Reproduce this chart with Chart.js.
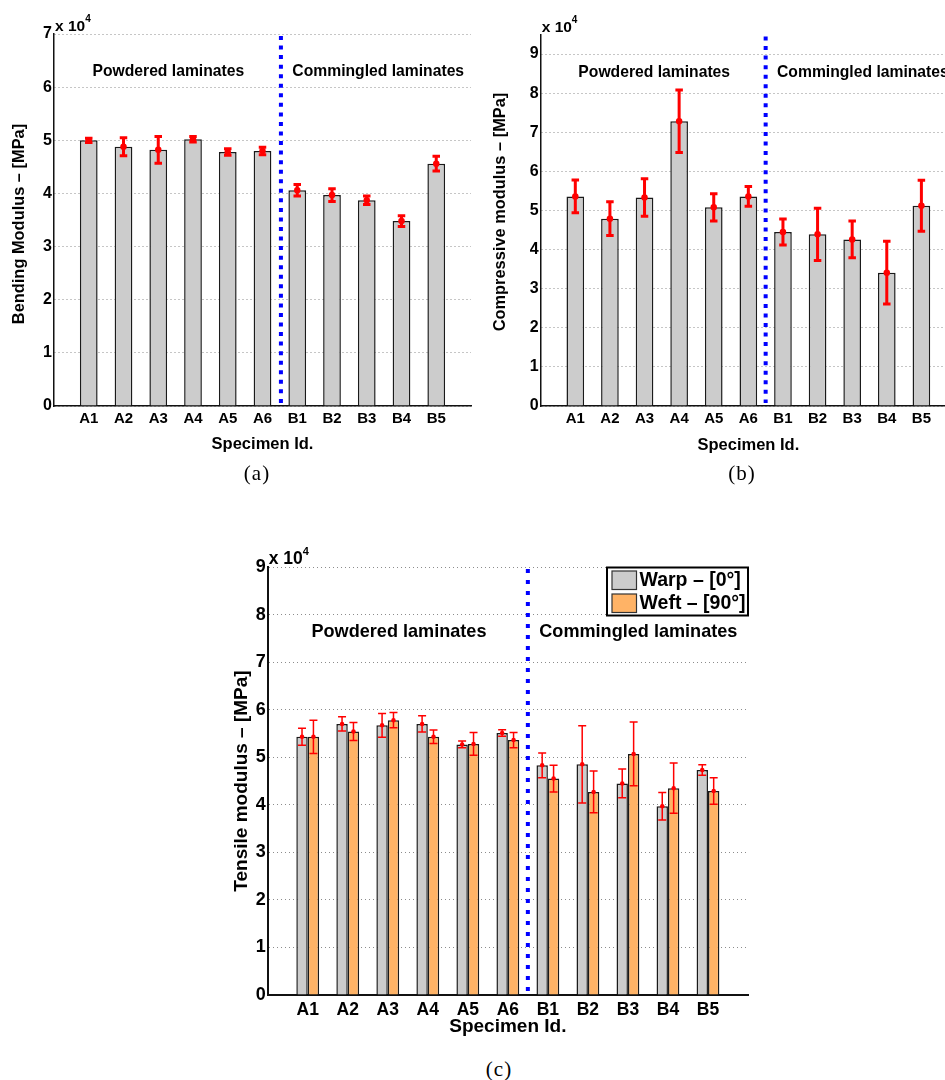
<!DOCTYPE html>
<html>
<head>
<meta charset="utf-8">
<title>Modulus of laminates</title>
<script src="https://cdn.jsdelivr.net/npm/chart.js@4/dist/chart.umd.js"></script>
<style>
html, body { margin: 0; padding: 0; background: #fff; width: 945px; height: 1080px; overflow: hidden; }
#page { position: relative; width: 945px; height: 1080px; overflow: hidden; }
canvas { position: absolute; display: block; }
.caption { position: absolute; width: 60px; text-align: center; font: 21px "Liberation Serif", serif; letter-spacing: 1px; color: #000; }
</style>
</head>
<body>
<div id="page">
  <canvas id="chartA"></canvas>
  <canvas id="chartB"></canvas>
  <canvas id="chartC"></canvas>
  <div class="caption" style="left:227px;top:461px">(a)</div>
  <div class="caption" style="left:712px;top:461px">(b)</div>
  <div class="caption" style="left:469px;top:1057px">(c)</div>
</div>
<script>
// Data, in units of 10^4 MPa
const specimens = ['A1', 'A2', 'A3', 'A4', 'A5', 'A6', 'B1', 'B2', 'B3', 'B4', 'B5'];

const bendingMean = [5.00, 4.88, 4.82, 5.02, 4.78, 4.80, 4.06, 3.97, 3.87, 3.48, 4.56];
const bendingErr = [0.04, 0.17, 0.25, 0.05, 0.06, 0.07, 0.11, 0.12, 0.08, 0.10, 0.14];

const compressiveMean = [5.36, 4.79, 5.33, 7.28, 5.08, 5.36, 4.45, 4.39, 4.26, 3.41, 5.12];
const compressiveErr = [0.42, 0.43, 0.48, 0.80, 0.35, 0.25, 0.33, 0.67, 0.47, 0.80, 0.65];

const warpMean = [5.43, 5.70, 5.67, 5.70, 5.27, 5.51, 4.83, 4.85, 4.45, 3.97, 4.73];
const warpErr = [0.18, 0.15, 0.25, 0.17, 0.07, 0.07, 0.26, 0.81, 0.30, 0.29, 0.11];
const weftMean = [5.43, 5.54, 5.78, 5.43, 5.28, 5.36, 4.55, 4.27, 5.07, 4.35, 4.29];
const weftErr = [0.35, 0.19, 0.16, 0.14, 0.24, 0.16, 0.28, 0.44, 0.67, 0.53, 0.28];

const GREY = '#cccccc';
const ORANGE = '#ffb366';
const FONT = '"Liberation Sans", Arial, sans-serif';

Chart.defaults.font.family = FONT;
Chart.defaults.color = '#000';

// pad the ends so the axis runs one category past A1 and B5, like the original
const pad = (arr) => [null, ...arr, null];

const panelPlugin = {
    id: 'panelPlugin',
    afterDatasetsDraw(chart, args, opts) {
        const { ctx, chartArea } = chart;
        const x = chart.scales.x, y = chart.scales.y;

        // error bars
        chart.data.datasets.forEach((ds, d) => {
            const meta = chart.getDatasetMeta(d);
            ds.errors.forEach((err, i) => {
                if (err === null) return;
                const px = meta.data[i].x;
                const hi = y.getPixelForValue(ds.data[i] + err);
                const lo = y.getPixelForValue(ds.data[i] - err);
                const mid = y.getPixelForValue(ds.data[i]);
                const cap = opts.capWidth / 2;
                ctx.save();
                ctx.strokeStyle = '#ff0000';
                ctx.lineWidth = opts.errWidth;
                ctx.beginPath();
                ctx.moveTo(px, hi); ctx.lineTo(px, lo);
                ctx.moveTo(px - cap, hi); ctx.lineTo(px + cap, hi);
                ctx.moveTo(px - cap, lo); ctx.lineTo(px + cap, lo);
                ctx.stroke();
                ctx.fillStyle = '#ff0000';
                ctx.beginPath();
                ctx.arc(px, mid, opts.markerSize / 2, 0, Math.PI * 2);
                ctx.fill();
                ctx.restore();
            });
        });

        // dotted divider between the two laminate groups
        const dx = x.getPixelForValue(opts.divider);
        ctx.save();
        ctx.strokeStyle = '#0000ff';
        ctx.lineWidth = 4;
        ctx.setLineDash(opts.dividerDash);
        ctx.lineDashOffset = -2;
        ctx.beginPath();
        ctx.moveTo(dx, chartArea.top);
        ctx.lineTo(dx, chartArea.bottom - 3);
        ctx.stroke();
        ctx.restore();
    },
    afterDraw(chart, args, opts) {
        const { ctx, chartArea } = chart;
        const x = chart.scales.x, y = chart.scales.y;
        ctx.save();
        ctx.fillStyle = '#000';

        // group labels
        ctx.font = 'bold ' + opts.labelSize + 'px ' + FONT;
        ctx.textAlign = 'center';
        ctx.textBaseline = 'middle';
        opts.groupLabels.forEach((g) => {
            ctx.fillText(g.text, x.getPixelForValue(g.x), y.getPixelForValue(g.y));
        });

        // y title, not centred on the axis in the original
        ctx.save();
        ctx.translate(opts.yTitleX, opts.yTitleY);
        ctx.rotate(-Math.PI / 2);
        ctx.font = 'bold ' + opts.yTitleSize + 'px ' + FONT;
        ctx.fillText(opts.yTitle, 0, 0);
        ctx.restore();

        // axis multiplier
        ctx.textAlign = 'left';
        ctx.textBaseline = 'alphabetic';
        ctx.font = 'bold ' + opts.multSize + 'px ' + FONT;
        ctx.fillText('x 10', chartArea.left + 1, opts.multY);
        const w = ctx.measureText('x 10').width;
        ctx.font = 'bold ' + Math.round(opts.multSize * 0.65) + 'px ' + FONT;
        ctx.fillText('4', chartArea.left + 1 + w, opts.multY - 9);
        ctx.restore();
    }
};

// legend box for the tensile panel
const boxLegend = {
    id: 'boxLegend',
    afterDraw(chart) {
        const { ctx } = chart;
        ctx.save();
        ctx.fillStyle = '#fff';
        ctx.strokeStyle = '#000';
        ctx.lineWidth = 2;
        ctx.fillRect(387, 27.5, 141, 48);
        ctx.strokeRect(387, 27.5, 141, 48);
        ctx.textBaseline = 'middle';
        ctx.font = 'bold 19.5px ' + FONT;
        chart.data.datasets.forEach((ds, i) => {
            const top = 31 + i * 23;
            ctx.fillStyle = ds.backgroundColor;
            ctx.strokeStyle = '#333';
            ctx.lineWidth = 1.2;
            ctx.fillRect(392, top, 24.5, 18.5);
            ctx.strokeRect(392, top, 24.5, 18.5);
            ctx.fillStyle = '#000';
            ctx.fillText(ds.label, 419.5, top + 10);
        });
        ctx.restore();
    }
};

function makePanel(id, cfg) {
    const canvas = document.getElementById(id);
    canvas.style.left = cfg.left + 'px';
    canvas.style.top = cfg.top + 'px';
    canvas.width = cfg.width;
    canvas.height = cfg.height;
    return new Chart(canvas.getContext('2d'), {
        type: 'bar',
        data: {
            labels: ['', ...specimens, ''],
            datasets: cfg.series.map((s) => ({
                label: s.label,
                data: pad(s.data),
                errors: pad(s.errors),
                backgroundColor: s.color,
                borderColor: '#1a1a1a',
                borderWidth: 1.5,
                barPercentage: cfg.barPercentage,
                categoryPercentage: cfg.categoryPercentage
            }))
        },
        options: {
            responsive: false,
            animation: false,
            devicePixelRatio: 1,
            layout: {
                padding: { left: 0, top: cfg.area.top, right: cfg.width - cfg.area.right, bottom: 0 }
            },
            plugins: {
                legend: { display: false },
                tooltip: { enabled: false },
                panelPlugin: cfg.extras
            },
            scales: {
                x: {
                    type: 'category',
                    offset: false,
                    afterFit: (scale) => { scale.height = cfg.height - cfg.area.bottom; },
                    grid: { display: false, drawTicks: false },
                    border: { color: '#111', width: cfg.axisWidth },
                    ticks: {
                        autoSkip: false,
                        maxRotation: 0,
                        padding: cfg.xTickPadding,
                        color: '#000',
                        font: { size: cfg.xTickSize, weight: 'bold' }
                    },
                    title: {
                        display: true,
                        text: 'Specimen Id.',
                        color: '#000',
                        padding: cfg.xTitlePadding,
                        font: { size: cfg.xTitleSize, weight: 'bold' }
                    }
                },
                y: {
                    min: 0,
                    max: cfg.yMax,
                    afterFit: (scale) => { scale.width = cfg.area.left; },
                    grid: { color: '#8c8c8c', lineWidth: 1, drawTicks: false },
                    border: { color: '#111', width: cfg.axisWidth, dash: [1, 3] },
                    ticks: {
                        stepSize: 1,
                        includeBounds: false,
                        padding: 2,
                        color: '#000',
                        font: { size: cfg.yTickSize, weight: 'bold' }
                    }
                }
            }
        },
        plugins: cfg.plugins
    });
}

makePanel('chartA', {
    left: 0, top: 0, width: 480, height: 490,
    area: { left: 54, right: 471, top: 34, bottom: 406 },
    yMax: 7,
    series: [{ label: 'Bending', data: bendingMean, errors: bendingErr, color: GREY }],
    barPercentage: 0.51, categoryPercentage: 1,
    xTickSize: 15, yTickSize: 16, xTickPadding: 4,
    xTitleSize: 16.5, xTitlePadding: { top: 0, bottom: 36 }, axisWidth: 1.5,
    plugins: [panelPlugin],
    extras: {
        capWidth: 7.5, errWidth: 3, markerSize: 6.5,
        divider: 6.53, dividerDash: [4, 5.55],
        labelSize: 15.7,
        groupLabels: [
            { text: 'Powdered laminates', x: 3.29, y: 6.3 },
            { text: 'Commingled laminates', x: 9.33, y: 6.3 }
        ],
        yTitle: 'Bending Modulus \u2013 [MPa]', yTitleX: 19, yTitleY: 224, yTitleSize: 16.4,
        multSize: 15.5, multY: 31
    }
});

makePanel('chartB', {
    left: 480, top: 0, width: 480, height: 490,
    area: { left: 60.7, right: 477.5, top: 34.5, bottom: 406 },
    yMax: 9.5,
    series: [{ label: 'Compressive', data: compressiveMean, errors: compressiveErr, color: GREY }],
    barPercentage: 0.51, categoryPercentage: 1,
    xTickSize: 15, yTickSize: 16, xTickPadding: 4,
    xTitleSize: 16.5, xTitlePadding: { top: 0, bottom: 35 }, axisWidth: 1.5,
    plugins: [panelPlugin],
    extras: {
        capWidth: 7.5, errWidth: 3, markerSize: 6.5,
        divider: 6.5, dividerDash: [4, 5.55],
        labelSize: 15.7,
        groupLabels: [
            { text: 'Powdered laminates', x: 3.28, y: 8.53 },
            { text: 'Commingled laminates', x: 9.31, y: 8.53 }
        ],
        yTitle: 'Compressive modulus \u2013 [MPa]', yTitleX: 20, yTitleY: 212, yTitleSize: 16.4,
        multSize: 15.5, multY: 32
    }
});

makePanel('chartC', {
    left: 220, top: 540, width: 540, height: 500,
    area: { left: 47.7, right: 528, top: 27, bottom: 455 },
    yMax: 9,
    series: [
        { label: 'Warp \u2013 [0\u00b0]', data: warpMean, errors: warpErr, color: GREY },
        { label: 'Weft \u2013 [90\u00b0]', data: weftMean, errors: weftErr, color: ORANGE }
    ],
    barPercentage: 1, categoryPercentage: 0.57,
    xTickSize: 17.5, yTickSize: 18, xTickPadding: 5,
    xTitleSize: 19, xTitlePadding: { top: 0, bottom: 2 }, axisWidth: 2,
    plugins: [panelPlugin, boxLegend],
    extras: {
        capWidth: 8, errWidth: 1.5, markerSize: 4.5,
        divider: 6.5, dividerDash: [4, 7],
        labelSize: 18.1,
        groupLabels: [
            { text: 'Powdered laminates', x: 3.28, y: 7.63 },
            { text: 'Commingled laminates', x: 9.26, y: 7.63 }
        ],
        yTitle: 'Tensile modulus \u2013 [MPa]', yTitleX: 21.5, yTitleY: 241, yTitleSize: 19,
        multSize: 17.5, multY: 23.5
    }
});
</script>
</body>
</html>
